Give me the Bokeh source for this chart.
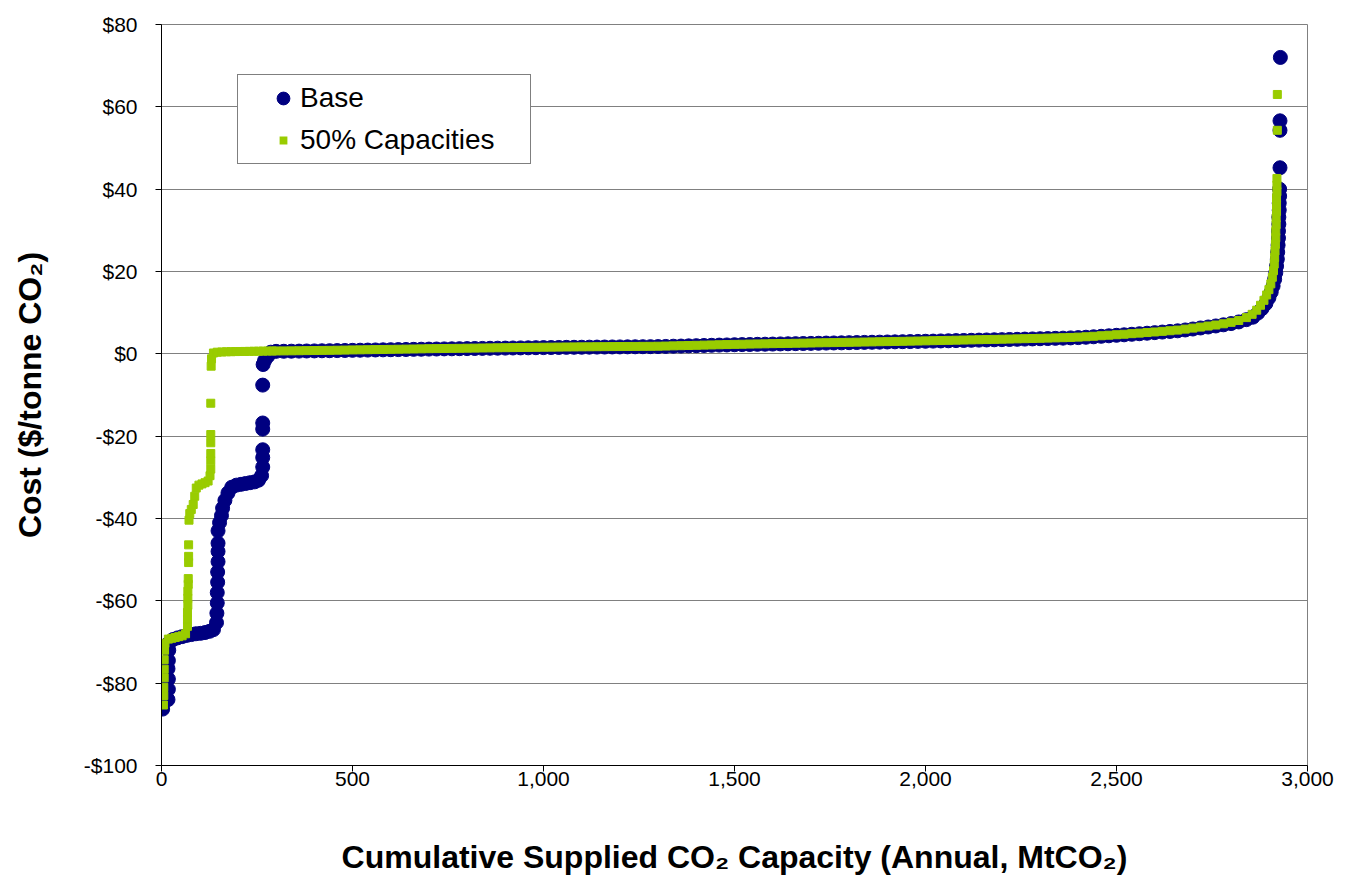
from bokeh.plotting import figure
from bokeh.models import FixedTicker, Legend, LegendItem
from bokeh.embed import file_html
from bokeh.resources import INLINE

# ---------------- data ----------------
x_ticks = [0, 500, 1000, 1500, 2000, 2500, 3000]
x_tick_labels = ["0", "500", "1,000", "1,500", "2,000", "2,500", "3,000"]
y_ticks = [-100, -80, -60, -40, -20, 0, 20, 40, 60, 80]
y_tick_labels = ["-$100", "-$80", "-$60", "-$40", "-$20", "$0", "$20", "$40", "$60", "$80"]

series_names = ["Base", "50% Capacities"]

# Base scenario: low-cost steps
base_left_x = [3, 17, 18, 18, 17, 18, 19, 20,
               30, 42, 54, 66, 78, 90, 102, 114, 126, 136,
               144, 145, 146, 146, 147, 147, 148, 148, 148, 148,
               152, 157, 160, 166, 174, 184, 196, 208, 220, 232,
               244, 254, 262, 265, 265, 265, 265, 265, 265, 266,
               270, 278, 286]
base_left_y = [-86.3, -84.0, -81.5, -79.0, -76.5, -74.5, -72.0, -70.2,
               -69.4, -69.0, -68.7, -68.4, -68.2, -68.0, -67.9, -67.7, -67.4, -67.0,
               -65.3, -63.0, -60.5, -58.0, -55.5, -53.0, -50.5, -48.0, -46.0, -43.0,
               -41.0, -39.3, -37.5, -35.6, -33.8, -32.4, -31.9, -31.7, -31.5, -31.3,
               -31.1, -30.7, -29.6, -27.5, -25.2, -23.3, -18.3, -16.8, -7.6, -2.6,
               -1.6, -0.6, 0.4]

# shared cumulative capacities along the long flat part of both curves
flat_x = [300, 320, 340, 360, 380, 400, 420, 440, 460, 480, 500,
          520, 540, 560, 580, 600, 620, 640, 660, 680, 700,
          720, 740, 760, 780, 800, 820, 840, 860, 880, 900, 920, 940, 960, 980, 1000,
          1020, 1040, 1060, 1080, 1100, 1120, 1140, 1160, 1180, 1200, 1220, 1240, 1260, 1280, 1300,
          1320, 1340, 1360, 1380, 1400, 1420, 1440, 1460, 1480, 1500,
          1520, 1540, 1560, 1580, 1600, 1620, 1640, 1660, 1680, 1700, 1720, 1740, 1760, 1780, 1800,
          1820, 1840, 1860, 1880, 1900, 1920, 1940, 1960, 1980, 2000,
          2020, 2040, 2060, 2080, 2100, 2120, 2140, 2160, 2180, 2200,
          2220, 2240, 2260, 2280, 2300, 2320, 2340,
          2360, 2380, 2400, 2420, 2440, 2460,
          2480, 2500, 2520, 2540,
          2560, 2580, 2600, 2620, 2640, 2660,
          2680, 2700, 2720,
          2740, 2760, 2780,
          2800, 2820, 2840]

base_flat_y = [0.60, 0.62, 0.64, 0.66, 0.69, 0.71, 0.74, 0.76, 0.79, 0.82, 0.85,
               0.88, 0.91, 0.94, 0.97, 1.00, 1.03, 1.06, 1.09, 1.12, 1.15,
               1.17, 1.20, 1.22, 1.25, 1.27, 1.30, 1.32, 1.35, 1.37, 1.39, 1.42, 1.44, 1.46, 1.49, 1.51,
               1.53, 1.55, 1.57, 1.59, 1.60, 1.62, 1.64, 1.65, 1.67, 1.68, 1.70, 1.71, 1.73, 1.74, 1.76,
               1.80, 1.85, 1.89, 1.94, 1.98, 2.03, 2.07, 2.12, 2.16, 2.21,
               2.24, 2.27, 2.31, 2.34, 2.37, 2.41, 2.44, 2.47, 2.51, 2.54, 2.57, 2.61, 2.64, 2.67, 2.71,
               2.74, 2.78, 2.81, 2.84, 2.88, 2.91, 2.95, 2.98, 3.02, 3.05,
               3.09, 3.13, 3.17, 3.21, 3.25, 3.29, 3.33, 3.37, 3.41, 3.45,
               3.49, 3.53, 3.58, 3.62, 3.67, 3.71, 3.76,
               3.81, 3.87, 3.94, 4.03, 4.14, 4.26,
               4.38, 4.50, 4.62, 4.75,
               4.88, 5.01, 5.15, 5.29, 5.44, 5.59,
               5.80, 6.03, 6.28,
               6.52, 6.77, 7.05,
               7.35, 7.75, 8.30]

base_right_x = [2857, 2870, 2881, 2891, 2899, 2905, 2910, 2914, 2917, 2919,
                2921, 2922, 2923, 2924, 2924, 2925, 2925, 2926, 2926, 2927,
                2927, 2928, 2928, 2928, 2929]
base_right_y = [8.9, 9.9, 11.0, 12.2, 13.6, 15.0, 16.5, 18.1, 19.7, 21.3,
                23.0, 24.7, 26.4, 28.1, 29.8, 31.5, 33.2, 34.9, 36.6, 38.3,
                40.0, 45.2, 54.3, 56.6, 72.0]

# 50% Capacities scenario
cap_left_x = [5, 6, 6, 7, 7, 7, 8, 9,
              18, 27, 36, 45, 54, 63,
              68, 68, 68, 69, 69, 69, 70, 70,
              71, 71, 71, 72, 74, 78, 83, 87, 91,
              98, 106, 114, 122, 127,
              129, 129, 129, 129, 129, 129,
              130, 131,
              136, 146, 158, 170, 182, 194, 206, 218, 230, 242, 254, 266, 278, 290]
cap_left_y = [-85.3, -83.0, -81.0, -78.7, -76.6, -74.3, -72.0, -70.3,
              -69.3, -69.1, -68.9, -68.7, -68.5, -68.0,
              -66.2, -64.5, -62.8, -61.1, -59.4, -57.7, -56.0, -54.6,
              -50.7, -49.2, -46.4, -40.4, -38.8, -37.8, -36.6, -34.6, -32.6,
              -31.9, -31.6, -31.3, -30.9, -29.6,
              -28.0, -26.0, -24.2, -21.6, -19.6, -12.0,
              -3.0, -1.2,
              0.2, 0.4, 0.45, 0.5, 0.52, 0.55, 0.57, 0.58, 0.6, 0.62, 0.64, 0.66, 0.68, 0.69]

cap_flat_y = [0.70, 0.71, 0.73, 0.75, 0.78, 0.80, 0.83, 0.85, 0.88, 0.91, 0.95,
              0.97, 1.00, 1.03, 1.06, 1.09, 1.12, 1.15, 1.18, 1.21, 1.25,
              1.27, 1.29, 1.32, 1.34, 1.37, 1.39, 1.42, 1.44, 1.47, 1.49, 1.51, 1.54, 1.56, 1.58, 1.60,
              1.62, 1.64, 1.66, 1.68, 1.70, 1.71, 1.73, 1.74, 1.76, 1.77, 1.79, 1.80, 1.82, 1.83, 1.85,
              1.89, 1.94, 1.98, 2.03, 2.07, 2.12, 2.16, 2.21, 2.25, 2.30,
              2.33, 2.37, 2.40, 2.43, 2.47, 2.50, 2.53, 2.57, 2.60, 2.63, 2.67, 2.70, 2.73, 2.77, 2.80,
              2.83, 2.87, 2.90, 2.94, 2.97, 3.01, 3.04, 3.08, 3.11, 3.15,
              3.19, 3.23, 3.27, 3.31, 3.35, 3.39, 3.43, 3.47, 3.51, 3.55,
              3.59, 3.64, 3.68, 3.73, 3.77, 3.82, 3.87,
              3.92, 3.98, 4.06, 4.15, 4.27, 4.40,
              4.52, 4.64, 4.76, 4.90,
              5.03, 5.17, 5.31, 5.46, 5.61, 5.77,
              6.00, 6.25, 6.50,
              6.75, 7.00, 7.30,
              7.65, 8.10, 8.80]

cap_right_x = [2855, 2867, 2877, 2886, 2893, 2899, 2904, 2908, 2911, 2913,
               2914, 2915, 2916, 2917, 2917, 2918, 2918, 2919, 2919, 2919,
               2920, 2920, 2920, 2921, 2921]
cap_right_y = [9.6, 10.6, 11.8, 13.0, 14.3, 15.6, 17.0, 18.6, 20.2, 21.8,
               23.4, 25.0, 26.6, 28.2, 29.8, 31.4, 33.0, 34.6, 36.2, 37.8,
               39.4, 41.0, 42.6, 54.3, 63.0]

base_x = base_left_x + flat_x + base_right_x
base_y = base_left_y + base_flat_y + base_right_y
cap_x = cap_left_x + flat_x + cap_right_x
cap_y = cap_left_y + cap_flat_y + cap_right_y

# ---------------- figure ----------------
FONT = "Liberation Sans"
NAVY = "#000080"
GREEN = "#99CC00"

p = figure(width=1347, height=877, x_range=(0, 3000), y_range=(-100, 80),
           output_backend="svg", toolbar_location=None,
           min_border_left=161, min_border_top=24, min_border_right=40, min_border_bottom=111,
           background_fill_color="white", border_fill_color="white")
p.outline_line_color = "#808080"
p.outline_line_width = 1

r_base = p.scatter(base_x, base_y, marker="circle", size=14,
                   fill_color=NAVY, line_color=NAVY)
r_cap = p.scatter(cap_x, cap_y, marker="square", size=8,
                  fill_color=GREEN, line_color=GREEN)
# hidden twin of the green series, only used to draw a smaller legend key
r_cap_key = p.scatter(cap_x, cap_y, marker="square", size=8,
                      fill_color=GREEN, line_color="white", line_width=5, visible=False)

# axes
p.xaxis.ticker = FixedTicker(ticks=x_ticks)
p.xaxis.major_label_overrides = {t: l for t, l in zip(x_ticks, x_tick_labels)}
p.yaxis.ticker = FixedTicker(ticks=y_ticks)
p.yaxis.major_label_overrides = {t: l for t, l in zip(y_ticks, y_tick_labels)}

for ax in (p.xaxis, p.yaxis):
    ax.axis_line_color = "black"
    ax.axis_line_width = 1
    ax.major_tick_line_color = "black"
    ax.major_tick_out = 6
    ax.major_tick_in = 0
    ax.minor_tick_line_color = None
    ax.major_label_text_font = FONT
    ax.major_label_text_font_size = "21px"
    ax.major_label_text_color = "black"
    ax.axis_label_text_font = FONT
    ax.axis_label_text_font_style = "bold"
    ax.axis_label_text_font_size = "32px"
    ax.axis_label_text_color = "black"

p.xaxis.axis_label = "Cumulative Supplied CO\u2082 Capacity (Annual, MtCO\u2082)"
p.yaxis.axis_label = "Cost ($/tonne CO\u2082)"
p.xaxis.major_label_standoff = 0
p.yaxis.major_label_standoff = 18
p.xaxis.axis_label_standoff = 50
p.yaxis.axis_label_standoff = 33

p.xgrid.visible = False
p.ygrid.ticker = FixedTicker(ticks=y_ticks)
p.ygrid.grid_line_color = "#808080"
p.ygrid.grid_line_width = 1

legend = Legend(
    items=[LegendItem(label=series_names[0], renderers=[r_base]),
           LegendItem(label=series_names[1], renderers=[r_cap_key])],
    location=(76, 601), margin=0, padding=7, spacing=10,
    glyph_width=34, glyph_height=32, label_standoff=0, label_width=223, label_height=32,
    title=" ", title_location="left", title_text_font_size="2px", title_standoff=19,
    label_text_font=FONT, label_text_font_size="28px", label_text_color="black",
    border_line_color="black", border_line_width=1,
    background_fill_color="white", background_fill_alpha=1.0,
)
p.add_layout(legend)

open("out.html", "w").write(file_html(p, INLINE))
